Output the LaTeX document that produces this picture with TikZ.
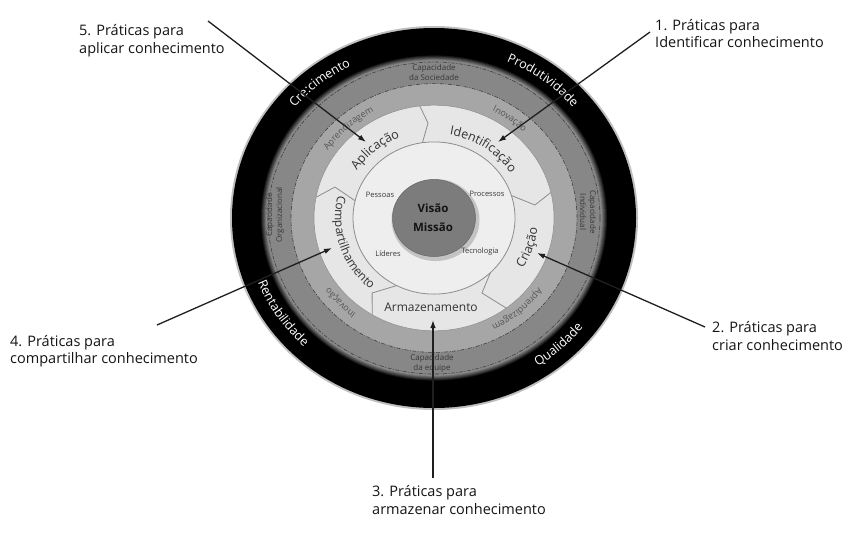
\documentclass[tikz,border=0pt]{standalone}
\usepackage{fontspec}
\setmainfont{Open Sans}
\usetikzlibrary{arrows.meta,decorations.text}
\definecolor{bandout}{HTML}{878787}
\definecolor{bandin}{HTML}{A6A6A6}
\definecolor{segfill}{HTML}{E6E6E6}
\definecolor{diskfill}{HTML}{EEEEEE}
\definecolor{corefill}{HTML}{7C7C7C}
\definecolor{segline}{HTML}{8C8C8C}
\definecolor{smalltxt}{HTML}{383838}
\definecolor{bandtxt}{HTML}{555555}
\definecolor{segtxt}{HTML}{333333}
\definecolor{calltxt}{HTML}{151515}
\newcommand\curvlabel[5]{%
  \pgfmathsetmacro\crY{0.94*#1}%
  \path[decorate,decoration={text along path,text align=center,text={|#4|#5}}]
    (#2:#1 and \crY) arc[start angle=#2,end angle=#3,x radius=#1,y radius=\crY];}
\begin{document}
\begin{tikzpicture}[x=1pt,y=1pt,
  calltext/.style={anchor=west,align=left,inner sep=0pt,text=calltxt,font=\fontsize{14.5}{17.5}\selectfont},
  callarrow/.style={draw=black!88,line width=1.3pt,-{Latex[length=8pt,width=5.5pt]}},
  dashring/.style={draw=black!75,line width=0.6pt,dash pattern=on 4pt off 1.5pt on 1pt off 1.5pt},
  capa/.style={align=center,inner sep=0pt,text=smalltxt,font=\fontsize{8}{10}\selectfont},
  inlab/.style={inner sep=0pt,text=smalltxt,font=\fontsize{7.5}{9}\selectfont},
  segline/.style={draw=segline,line width=0.8pt,line join=round}]
\useasboundingbox (0,0) rectangle (853,-536);
\fill[white] (0,0) rectangle (853,-536);
\coordinate (c) at (434,-218);
\begin{scope}[shift={(c)}]
  % soft outer edge
  \fill[black!25] (0,0) ellipse[x radius=204,y radius=192];
  % outer black ring with soft inner edge
  \fill[black] (0,0) ellipse[x radius=202,y radius=190];
  \foreach \k in {0,...,6}{%
    \pgfmathsetmacro\rr{174-\k}%
    \pgfmathsetmacro\ry{0.94*\rr}%
    \pgfmathtruncatemacro\pc{\k*100/6}%
    \fill[bandout!\pc!black] (0,0) ellipse[x radius=\rr,y radius=\ry];}
  \draw[dashring] (0,0) ellipse[x radius=166,y radius=156];
  \fill[bandin] (0,0) ellipse[x radius=143,y radius=134.4];
  \draw[dashring] (0,0) ellipse[x radius=143,y radius=134.4];
  \fill[segfill] (0,0) ellipse[x radius=120,y radius=112.8];
  \draw[segline,line width=0.5pt] (0,0) ellipse[x radius=120,y radius=112.8];
  \fill[diskfill] (0,0) ellipse[x radius=81,y radius=76.1];
  \draw[segline] (0,0) ellipse[x radius=81,y radius=76.1];
  % chevron boundaries between segments
  \draw[segline] (96.8:120 and 112.8) -- (93.4:101.2 and 95.1) -- (98.2:81 and 76.1);
  \draw[segline] (13.1:120 and 112.8) -- (7.8:101.9 and 95.8) -- (17.2:81 and 76.1);
  \draw[segline] (-53:120 and 112.8) -- (-59:93.1 and 87.5) -- (-45.8:81 and 76.1);
  \draw[segline] (-121:120 and 112.8) -- (-127.8:101 and 94.9) -- (-117.4:81 and 76.1);
  \draw[segline] (169.4:120 and 112.8) -- (161.6:104.4 and 98.1) -- (166.9:81 and 76.1);
  % core disk
  \fill[black,opacity=0.18] (1.5,-2) ellipse[x radius=44,y radius=41];
  \fill[corefill] (0,0) ellipse[x radius=41.5,y radius=38.5];
  \draw[black!60,line width=0.5pt] (0,0) ellipse[x radius=41.5,y radius=38.5];
  % outer ring labels
  \curvlabel{182}{179.5}{79.5}{\fontsize{12.5}{14}\selectfont\color{white}}{Cre:cimento}
  \curvlabel{182}{102.4}{2.4}{\fontsize{12.5}{14}\selectfont\color{white}}{Produtividade}
  \curvlabel{189}{163}{263}{\fontsize{12.5}{14}\selectfont\color{white}}{Rentabilidade}
  \curvlabel{189}{-96.3}{3.7}{\fontsize{12.5}{14}\selectfont\color{white}}{Qualidade}
  % inner band labels
  \curvlabel{128}{182.9}{82.9}{\fontsize{9}{10}\selectfont\color{bandtxt}}{Aprendizagem}
  \curvlabel{128}{103.3}{3.3}{\fontsize{9}{10}\selectfont\color{bandtxt}}{Inovação}
  \curvlabel{128}{1.6}{-98.4}{\fontsize{9}{10}\selectfont\color{bandtxt}}{Aprendizagem}
  \curvlabel{128}{272.8}{172.8}{\fontsize{9}{10}\selectfont\color{bandtxt}}{Inovação}
  % segment labels
  \curvlabel{92}{180.2}{80.2}{\fontsize{12.5}{14}\selectfont\color{segtxt}}{Aplicação}
  \curvlabel{90}{105.3}{5.3}{\fontsize{12.5}{14}\selectfont\color{segtxt}}{Identificação}
  \curvlabel{104}{-68}{32}{\fontsize{12.5}{14}\selectfont\color{segtxt}}{Criação}
  \curvlabel{99}{147.7}{247.7}{\fontsize{12}{14}\selectfont\color{segtxt}}{Compartilhamento}
\end{scope}
\node[text=segtxt,font=\fontsize{12}{14}\selectfont,inner sep=0pt] (arm) at (431,-307) {Armazenamento};
% capacity labels
\node[capa] (cs) at (434,-72) {Capacidade\\da Sociedade};
\node[capa] (ce) at (432,-363) {Capacidade\\da equipe};
\node[capa,rotate=90] (co) at (275,-215) {Capacidade\\Organizacional};
\node[capa,rotate=-90] (ci) at (588,-212) {Capacidade\\Individual};
% inner disk labels
\node[inlab] (pe) at (380,-195) {Pessoas};
\node[inlab] (pr) at (487,-194) {Processos};
\node[inlab] (li) at (388,-254) {Líderes};
\node[inlab] (te) at (480,-252) {Tecnologia};
\node[align=center,inner sep=0pt,text=black!92,font=\bfseries\fontsize{11.5}{19}\selectfont] (vm) at (433,-217.5) {Visão\\Missão};
% callout labels
\node[calltext] (l5) at (79,-40.5) {5. Práticas para\\aplicar conhecimento};
\node[calltext] (l1) at (655,-33.5) {1. Práticas para\\Identificar conhecimento};
\node[calltext] (l2) at (712,-336) {2. Práticas para\\criar conhecimento};
\node[calltext] (l4) at (10,-351) {4. Práticas para\\compartilhar conhecimento};
\node[calltext] (l3) at (372,-500) {3. Práticas para\\armazenar conhecimento};
% arrow end points
\coordinate (a5s) at (208,-21);  \coordinate (a5t) at (366,-142);
\coordinate (a1s) at (650,-32);  \coordinate (a1t) at (498,-142);
\coordinate (a2s) at (705,-327); \coordinate (a2t) at (537,-253);
\coordinate (a4s) at (157,-325); \coordinate (a4t) at (332,-248);
\coordinate (a3s) at (433,-478); \coordinate (a3t) at (433,-320);
\draw[callarrow] (a5s) -- (a5t);
\draw[callarrow] (a1s) -- (a1t);
\draw[callarrow] (a2s) -- (a2t);
\draw[callarrow] (a4s) -- (a4t);
\draw[callarrow] (a3s) -- (a3t);
\end{tikzpicture}
\end{document}
